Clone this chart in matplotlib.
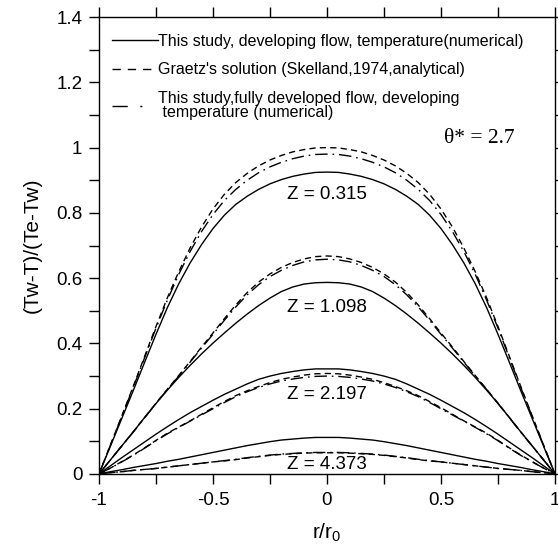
import numpy as np
import matplotlib
matplotlib.use("Agg")
import matplotlib.pyplot as plt
from matplotlib.lines import Line2D

plt.rcParams["font.family"] = ["Liberation Sans", "DejaVu Sans"]

# half profiles, r/r0 from 0 to 1 (profiles are symmetric about r = 0)
r_half = [0.0, 0.05, 0.1, 0.15, 0.2, 0.25, 0.3, 0.35, 0.4, 0.45, 0.5,
          0.55, 0.6, 0.65, 0.7, 0.75, 0.8, 0.85, 0.9, 0.95, 1.0]

# solid = developing flow, dashed = Graetz, dashdot = fully developed flow
# Z = 0.315
dev_0315 = [0.925, 0.924, 0.919, 0.912, 0.902, 0.889, 0.872, 0.851, 0.826, 0.793, 0.752,
            0.703, 0.647, 0.583, 0.510, 0.428, 0.342, 0.255, 0.170, 0.085, 0.0]
gr_0315 = [1.000, 0.999, 0.994, 0.987, 0.976, 0.962, 0.944, 0.921, 0.893, 0.857, 0.812,
           0.757, 0.693, 0.620, 0.540, 0.452, 0.360, 0.268, 0.178, 0.089, 0.0]
fd_0315 = [0.980, 0.979, 0.974, 0.966, 0.955, 0.941, 0.923, 0.900, 0.872, 0.838, 0.795,
           0.743, 0.682, 0.612, 0.533, 0.447, 0.356, 0.265, 0.176, 0.088, 0.0]
# Z = 1.098
dev_1098 = [0.587, 0.586, 0.582, 0.573, 0.559, 0.539, 0.516, 0.490, 0.462, 0.432, 0.401,
            0.368, 0.333, 0.296, 0.257, 0.216, 0.173, 0.129, 0.086, 0.043, 0.0]
gr_1098 = [0.668, 0.666, 0.659, 0.648, 0.633, 0.613, 0.588, 0.556, 0.518, 0.476, 0.432,
           0.389, 0.345, 0.302, 0.260, 0.217, 0.173, 0.129, 0.086, 0.043, 0.0]
fd_1098 = [0.658, 0.656, 0.650, 0.639, 0.624, 0.605, 0.580, 0.549, 0.512, 0.471, 0.428,
           0.386, 0.343, 0.300, 0.259, 0.216, 0.172, 0.128, 0.086, 0.043, 0.0]
# Z = 2.197
dev_2197 = [0.322, 0.322, 0.319, 0.314, 0.308, 0.300, 0.290, 0.276, 0.260, 0.244, 0.226,
            0.207, 0.188, 0.167, 0.145, 0.122, 0.098, 0.074, 0.050, 0.025, 0.0]
gr_2197 = [0.308, 0.307, 0.303, 0.297, 0.290, 0.280, 0.268, 0.255, 0.240, 0.222, 0.203,
           0.183, 0.163, 0.144, 0.125, 0.103, 0.080, 0.058, 0.038, 0.018, 0.0]
fd_2197 = [0.300, 0.299, 0.296, 0.291, 0.285, 0.276, 0.265, 0.252, 0.237, 0.219, 0.200,
           0.181, 0.162, 0.143, 0.123, 0.102, 0.079, 0.057, 0.037, 0.018, 0.0]
# Z = 4.373
dev_4373 = [0.112, 0.112, 0.110, 0.107, 0.104, 0.099, 0.093, 0.087, 0.080, 0.073, 0.066,
            0.059, 0.052, 0.045, 0.039, 0.032, 0.026, 0.020, 0.013, 0.007, 0.0]
gr_4373 = [0.065, 0.065, 0.064, 0.062, 0.060, 0.057, 0.053, 0.049, 0.044, 0.040, 0.037,
           0.033, 0.029, 0.025, 0.021, 0.017, 0.014, 0.011, 0.007, 0.004, 0.0]
fd_4373 = [0.066, 0.066, 0.065, 0.063, 0.061, 0.058, 0.054, 0.050, 0.045, 0.041, 0.037,
           0.033, 0.029, 0.025, 0.021, 0.017, 0.014, 0.011, 0.007, 0.004, 0.0]

z_labels = ["Z = 0.315", "Z = 1.098", "Z = 2.197", "Z = 4.373"]
z_label_y = [0.855, 0.51, 0.245, 0.028]

legend_labels = [
    "This study, developing flow, temperature(numerical)",
    "Graetz's solution (Skelland,1974,analytical)",
    "This study,fully developed flow, developing\n temperature (numerical)",
]

x_ticks = [-1, -0.5, 0, 0.5, 1]
x_tick_labels = ["-1", "-0.5", "0", "0.5", "1"]
y_ticks = [0, 0.2, 0.4, 0.6, 0.8, 1.0, 1.2, 1.4]
y_tick_labels = ["0", "0.2", "0.4", "0.6", "0.8", "1", "1.2", "1.4"]


def full(vals):
    # mirror the half profile to cover -1..1
    r = np.array(r_half)
    v = np.array(vals)
    return np.concatenate([-r[::-1], r[1:]]), np.concatenate([v[::-1], v[1:]])


fig = plt.figure(figsize=(5.58, 5.5), dpi=100)
ax = fig.add_axes([0.1774, 0.1382, 0.8172, 0.8308])

solid = dict(color="black", lw=1.0, linestyle="-")
dashed = dict(color="black", lw=1.0, linestyle=(0, (4.5, 3)))
dashdot = dict(color="black", lw=1.0, linestyle=(0, (9, 3.5, 1.2, 3.5)))

groups = [(dev_0315, gr_0315, fd_0315), (dev_1098, gr_1098, fd_1098),
          (dev_2197, gr_2197, fd_2197), (dev_4373, gr_4373, fd_4373)]
for d, g, f in groups:
    ax.plot(*full(d), **solid)
    ax.plot(*full(g), **dashed)
    ax.plot(*full(f), **dashdot)

for lab, yy in zip(z_labels, z_label_y):
    ax.text(0, yy, lab, ha="center", va="center", fontsize=13.5)

ax.text(0.912, 0.735, "θ* = 2.7", transform=ax.transAxes, ha="right", va="center",
        fontsize=15.5, family=["Liberation Serif", "DejaVu Serif"])

# legend samples drawn with longer dashes, as in the original figure
handles = [
    Line2D([], [], color="black", lw=1.0, linestyle="-"),
    Line2D([], [], color="black", lw=1.0, linestyle=(0, (6, 5))),
    Line2D([], [], color="black", lw=1.0, linestyle=(0, (11, 9, 1.5, 30))),
]
leg = ax.legend(handles, legend_labels, loc="upper left", bbox_to_anchor=(-0.009, 1.0),
                frameon=False, fontsize=11.5, handlelength=2.9, handletextpad=0.0,
                labelspacing=0.85, borderaxespad=0.65)
leg.get_texts()[2].set_linespacing(0.95)

ax.set_xlim(-1, 1)
ax.set_ylim(0, 1.4)
ax.set_xticks(x_ticks)
ax.set_xticklabels(x_tick_labels)
ax.set_yticks(y_ticks)
ax.set_yticklabels(y_tick_labels)
ax.set_xticks(np.arange(-1, 1.01, 0.25), minor=True)
ax.set_yticks(np.arange(0, 1.41, 0.1), minor=True)
ax.tick_params(which="both", direction="out", length=7, width=1.0, top=True, right=True,
               labelsize=13.5, color="black")
ax.tick_params(axis="y", pad=5)
ax.tick_params(axis="x", pad=6)
for sp in ax.spines.values():
    sp.set_linewidth(1.0)

ax.set_xlabel(r"r/r$_\mathregular{0}$", fontsize=15, labelpad=9)
ax.set_ylabel("(Tw-T)/(Te-Tw)", fontsize=15, labelpad=10)

fig.savefig("out.png", dpi=100)
